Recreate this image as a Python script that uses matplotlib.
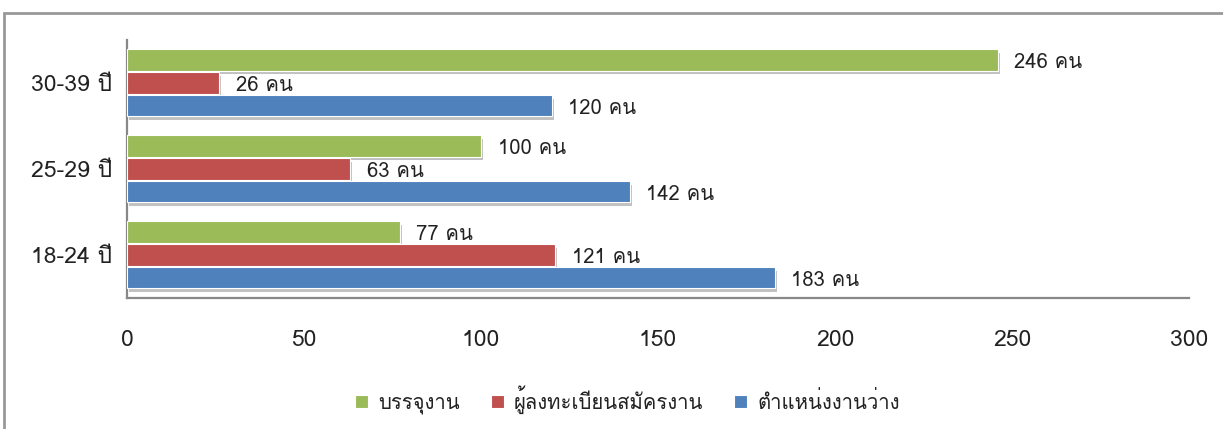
import matplotlib
matplotlib.use('Agg')
import matplotlib.pyplot as plt
import matplotlib.patheffects as pe
from matplotlib import font_manager
from matplotlib.ft2font import FT2Font
from matplotlib.patches import Rectangle
import numpy as np

categories = ['18-24 ปี', '25-29 ปี', '30-39 ปี']
placed = [77, 100, 246]        # บรรจุงาน
applicants = [121, 63, 26]     # ผู้ลงทะเบียนสมัครงาน
vacancies = [183, 142, 120]    # ตำแหน่งงานว่าง
series_names = ['บรรจุงาน', 'ผู้ลงทะเบียนสมัครงาน', 'ตำแหน่งงานว่าง']
unit = 'คน'
x_ticks = [0, 50, 100, 150, 200, 250, 300]


def thai_font():
    # first installed font that actually has Thai glyphs
    for f in font_manager.fontManager.ttflist:
        try:
            if FT2Font(f.fname).get_char_index(ord('ค')):
                return f.name
        except Exception:
            pass
    return None


fam = thai_font()
plt.rcParams['font.family'] = [fam, 'DejaVu Sans'] if fam else ['DejaVu Sans']

colors = ['#9BBB59', '#C0504D', '#4F81BD']
values = [placed, applicants, vacancies]
offsets = [0.267, 0.0, -0.267]
h = 0.245

fig = plt.figure(figsize=(12.23, 4.29), dpi=100)
ax = fig.add_axes([0.1038, 0.3054, 0.8684, 0.6014])

y = np.arange(len(categories))
shadow = [pe.SimplePatchShadow(offset=(1.5, -2.5), shadow_rgbFace='#777777', alpha=0.45), pe.Normal()]
for vals, off, c, name in zip(values, offsets, colors, series_names):
    bars = ax.barh(y + off, vals, height=h, color=c, edgecolor='white', linewidth=0.8,
                   label=name, zorder=3)
    for b in bars:
        b.set_path_effects(shadow)
    for yi, v in zip(y, vals):
        ax.annotate(f'{v} {unit}', (v, yi + off), xytext=(12, -2), textcoords='offset points',
                    va='center', ha='left', fontsize=14.6, color='#222222', zorder=2,
                    bbox=dict(facecolor='white', edgecolor='none', pad=1.5))

ax.set_xlim(0, 300)
ax.set_ylim(-0.5, 2.5)
ax.set_xticks(x_ticks)
ax.set_yticks(y)
ax.set_yticklabels(categories)
ax.tick_params(axis='x', length=0, pad=23, labelsize=16.5, labelcolor='#222222')
ax.tick_params(axis='y', length=0, pad=11, labelsize=16.5, labelcolor='#222222')
for s in ['top', 'right']:
    ax.spines[s].set_visible(False)
for s in ['left', 'bottom']:
    ax.spines[s].set_color('#888888')
    ax.spines[s].set_linewidth(1.6)

leg = fig.legend(loc='center', bbox_to_anchor=(0.513, 0.068), ncol=3, frameon=False,
                 fontsize=14.6, handlelength=0.65, handleheight=0.65, handletextpad=0.5,
                 columnspacing=1.5)
for t in leg.get_texts():
    t.set_color('#222222')
for hd in leg.legend_handles:
    hd.set_path_effects([])

# outer chart frame (cut off on right and bottom)
fig.patches.append(Rectangle((0.0033, -0.05), 1.1, 0.9697 + 0.05, transform=fig.transFigure,
                             fill=False, edgecolor='#999999', linewidth=2, clip_on=False))

plt.savefig('out.png', dpi=100)
